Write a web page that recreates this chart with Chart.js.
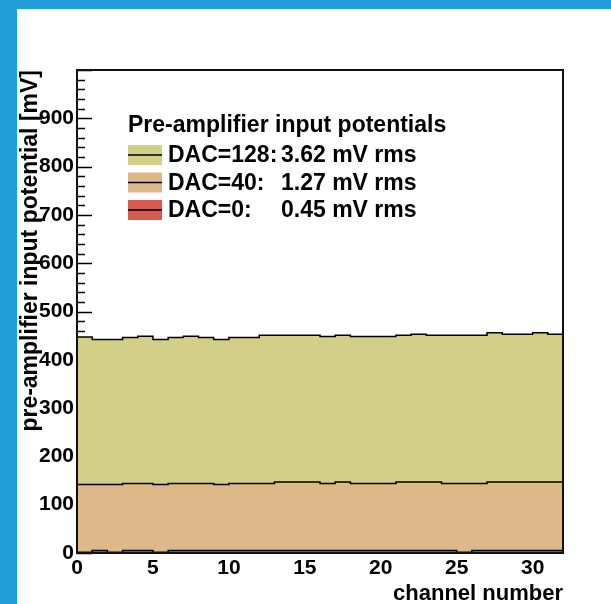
<!DOCTYPE html>
<html>
<head>
<meta charset="utf-8">
<script src="https://cdn.jsdelivr.net/npm/chart.js@4.4.1/dist/chart.umd.min.js"></script>
<style>
  html, body { margin: 0; padding: 0; width: 611px; height: 604px; overflow: hidden; background: #219ed8; }
  #wrap { position: absolute; left: 17px; top: 9px; width: 594px; height: 595px; background: #fff; }
</style>
</head>
<body>
<div id="wrap"><canvas id="chart"></canvas></div>
<script>
// --- DATA ---
const channels = [0, 1, 2, 3, 4, 5, 6, 7, 8, 9, 10, 11, 12, 13, 14, 15,
                  16, 17, 18, 19, 20, 21, 22, 23, 24, 25, 26, 27, 28, 29, 30, 31];
const lastEdge = 32;

const dac128 = [447, 442, 442, 446, 449, 442, 446, 449, 446, 442, 446, 446, 451, 451, 451, 451,
                448, 451, 448, 448, 448, 451, 453, 451, 451, 451, 451, 456, 453, 453, 456, 453];
const dac40 = [142, 142, 142, 144, 144, 142, 144, 144, 144, 142, 144, 144, 144, 147, 147, 147,
               144, 147, 144, 144, 144, 147, 147, 147, 144, 144, 144, 147, 147, 147, 147, 147];
const dac0 = [1.5, 5, 1.5, 5, 5, 1.5, 5, 5, 5, 5, 5, 5, 5, 5, 5, 5,
              5, 5, 5, 5, 5, 5, 5, 5, 5, 1.5, 5, 5, 5, 5, 5, 5];

const seriesLabels = ['DAC=128:', 'DAC=40:', 'DAC=0:'];
const rmsLabels = ['3.62 mV rms', '1.27 mV rms', '0.45 mV rms'];
const legendTitle = 'Pre-amplifier input potentials';
const yTickLabels = [0, 100, 200, 300, 400, 500, 600, 700, 800, 900];
const xTickLabels = [0, 5, 10, 15, 20, 25, 30];

// --- STYLE ---
const FONT = "'Liberation Sans', Arial, Helvetica, sans-serif";
const fillColors = ['#d3cf89', '#deb889', '#d65a52'];

// histogram bins -> stepped line points (last bin closed at the upper edge)
function histPoints(values) {
    const pts = channels.map((c, i) => ({ x: c, y: values[i] }));
    pts.push({ x: lastEdge, y: values[values.length - 1] });
    return pts;
}

const series = [dac128, dac40, dac0];

// ticks drawn inside the frame, ROOT style (fills cover them)
const innerTicks = {
    id: 'innerTicks',
    beforeDatasetsDraw(chart) {
        const ctx = chart.ctx, y = chart.scales.y, a = chart.chartArea;
        ctx.save();
        ctx.strokeStyle = '#000';
        ctx.lineWidth = 1.5;
        for (let v = y.min; v <= y.max; v += 20) {
            const py = Math.round(y.getPixelForValue(v)) + 0.5;
            const len = v % 100 === 0 ? 15 : 8;
            ctx.beginPath();
            ctx.moveTo(a.left, py);
            ctx.lineTo(a.left + len, py);
            ctx.stroke();
        }
        ctx.restore();
    }
};

const frameAndLegend = {
    id: 'frameAndLegend',
    afterDatasetsDraw(chart) {
        const ctx = chart.ctx, a = chart.chartArea;
        ctx.save();
        // frame
        ctx.strokeStyle = '#111';
        ctx.lineWidth = 2;
        ctx.strokeRect(a.left, a.top, a.right - a.left, a.bottom - a.top);

        // legend
        const lx = a.left + 51, ly = a.top + 56;
        ctx.fillStyle = '#000';
        ctx.textBaseline = 'middle';
        ctx.font = 'bold 23px ' + FONT;
        ctx.fillText(legendTitle, lx, ly);
        chart.data.datasets.forEach((ds, i) => {
            const cy = ly + 29 + i * 27.5;
            ctx.fillStyle = ds.backgroundColor;
            ctx.fillRect(lx, cy - 10, 34, 20);
            ctx.strokeStyle = '#000';
            ctx.lineWidth = 1.5;
            ctx.beginPath();
            ctx.moveTo(lx, cy);
            ctx.lineTo(lx + 34, cy);
            ctx.stroke();
            ctx.fillStyle = '#000';
            ctx.fillText(ds.label, lx + 40, cy + 1);
            ctx.fillText(rmsLabels[i], lx + 153, cy + 1);
        });
        ctx.restore();
    }
};

const ctx = document.getElementById('chart').getContext('2d');
new Chart(ctx, {
    type: 'line',
    data: {
        datasets: seriesLabels.map((lab, i) => ({
            label: lab,
            data: histPoints(series[i]),
            stepped: true,
            fill: 'origin',
            backgroundColor: fillColors[i],
            borderColor: '#000',
            borderWidth: 1.5,
            pointRadius: 0,
            order: series.length - i
        }))
    },
    options: {
        responsive: true,
        maintainAspectRatio: false,
        animation: false,
        layout: { padding: { top: 61, right: 48, left: 0, bottom: 0 } },
        plugins: { legend: { display: false }, tooltip: { enabled: false } },
        scales: {
            x: {
                type: 'linear', min: 0, max: lastEdge,
                grid: { display: false, drawTicks: false },
                border: { display: false },
                afterBuildTicks: s => { s.ticks = xTickLabels.map(v => ({ value: v })); },
                ticks: {
                    padding: 3, color: '#000', maxRotation: 0, autoSkip: false,
                    font: { family: FONT, size: 21, weight: 'bold' }
                },
                title: {
                    display: true, text: 'channel number', align: 'end', color: '#000',
                    padding: 0, font: { family: FONT, size: 22, weight: 'bold', lineHeight: 0.95 }
                },
                afterFit: s => { s.height = 51; }
            },
            y: {
                min: 0, max: 1000,
                grid: { display: false, drawTicks: false },
                border: { display: false },
                afterBuildTicks: s => { s.ticks = yTickLabels.map(v => ({ value: v })); },
                ticks: {
                    padding: 3, color: '#000', autoSkip: false,
                    font: { family: FONT, size: 21, weight: 'bold' }
                },
                title: {
                    display: true, text: 'pre-amplifier input potential [mV]', align: 'end', color: '#000',
                    padding: 0, font: { family: FONT, size: 23, weight: 'bold' }
                },
                afterFit: s => { s.width = 60; }
            }
        }
    },
    plugins: [innerTicks, frameAndLegend]
});
</script>
</body>
</html>
